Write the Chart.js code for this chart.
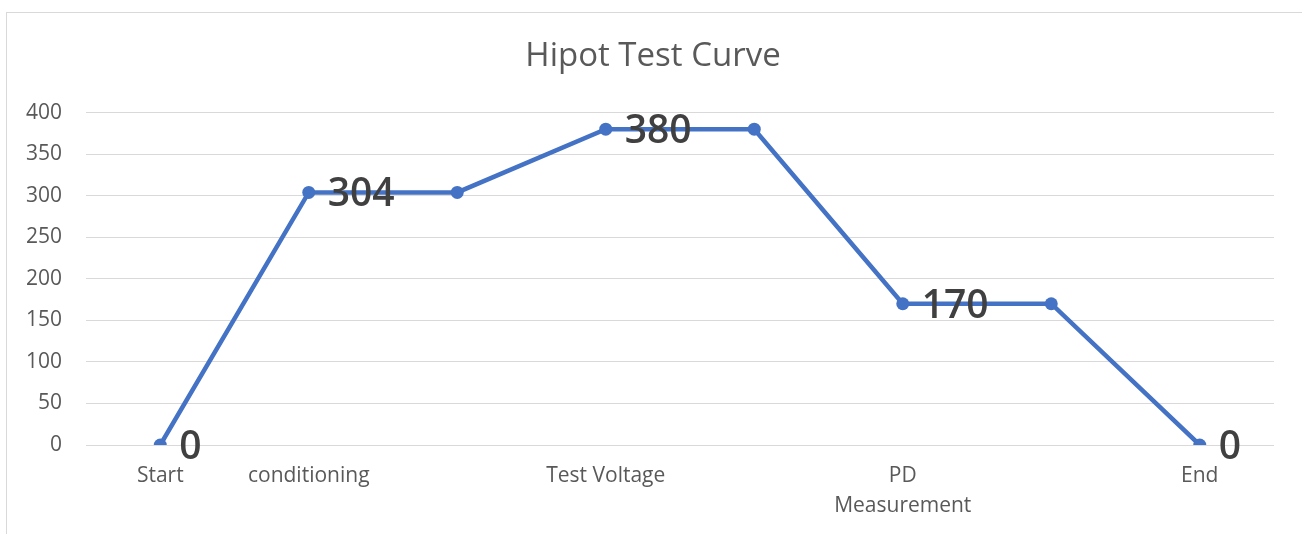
<!DOCTYPE html>
<html>
<head>
<meta charset="utf-8">
<script src="https://cdn.jsdelivr.net/npm/chart.js@4"></script>
<style>
  html, body { margin: 0; padding: 0; background: #fff; overflow: hidden; }
  #frame {
    position: absolute; left: 6px; top: 12px;
    width: 1320px; height: 560px;
    border: 1px solid #d9d9d9;
  }
  #wrap { position: absolute; left: 0; top: 0; width: 1302px; height: 534px; }
</style>
</head>
<body>
<div id="frame"></div>
<div id="wrap"><canvas id="hipot"></canvas></div>
<script>
// test stages along the x axis
const stages = ['Start', 'conditioning', '', 'Test Voltage', '', ['PD', 'Measurement'], '', 'End'];
// voltage at each stage
const voltage = [0, 304, 304, 380, 380, 170, 170, 0];
// which points carry a value label
const labelShown = [true, true, false, true, false, true, false, true];
const yTicks = [0, 50, 100, 150, 200, 250, 300, 350, 400];

const FONT = '"Open Sans", sans-serif';

// draws the bold value next to selected points
const valueLabels = {
  id: 'valueLabels',
  afterDatasetsDraw(chart) {
    const ctx = chart.ctx;
    const meta = chart.getDatasetMeta(0);
    const values = chart.data.datasets[0].data;
    ctx.save();
    ctx.font = '600 39px ' + FONT;
    ctx.fillStyle = '#404040';
    ctx.textAlign = 'left';
    ctx.textBaseline = 'middle';
    meta.data.forEach((pt, i) => {
      if (!labelShown[i]) return;
      ctx.fillText(String(values[i]), pt.x + 19, pt.y + 3);
    });
    ctx.restore();
  }
};

new Chart(document.getElementById('hipot'), {
  type: 'line',
  data: {
    labels: stages,
    datasets: [{
      data: voltage,
      borderColor: '#4472C4',
      backgroundColor: '#4472C4',
      borderWidth: 4.5,
      pointRadius: 6.5,
      pointBorderWidth: 0,
      tension: 0
    }]
  },
  options: {
    responsive: true,
    maintainAspectRatio: false,
    animation: false,
    layout: { padding: { left: 4, right: 0, top: 0, bottom: 0 } },
    plugins: {
      legend: { display: false },
      tooltip: { enabled: false },
      title: {
        display: true,
        text: 'Hipot Test Curve',
        color: '#595959',
        font: { family: FONT, size: 33, weight: 'normal', lineHeight: 1.2 },
        padding: { top: 37, bottom: 36 }
      }
    },
    scales: {
      x: {
        offset: true,
        afterFit(scale) { scale.height = 89; },
        grid: { display: false, drawTicks: false },
        border: { display: false },
        ticks: {
          color: '#595959',
          font: { family: FONT, size: 21, lineHeight: 1.43 },
          padding: 16,
          maxRotation: 0,
          autoSkip: false
        }
      },
      y: {
        min: 0,
        max: 400,
        afterFit(scale) { scale.width = 82; },
        afterBuildTicks(scale) { scale.ticks = yTicks.map(v => ({ value: v })); },
        grid: { color: '#d9d9d9', lineWidth: 1, drawTicks: false },
        border: { display: false },
        ticks: {
          color: '#595959',
          font: { family: FONT, size: 21 },
          padding: 24
        }
      },
      // empty right-hand margin so the title stays centred on the frame
      yRight: {
        position: 'right',
        afterFit(scale) { scale.width = 28; },
        grid: { display: false, drawTicks: false },
        border: { display: false },
        ticks: { display: false }
      }
    }
  },
  plugins: [valueLabels]
});
</script>
</body>
</html>
